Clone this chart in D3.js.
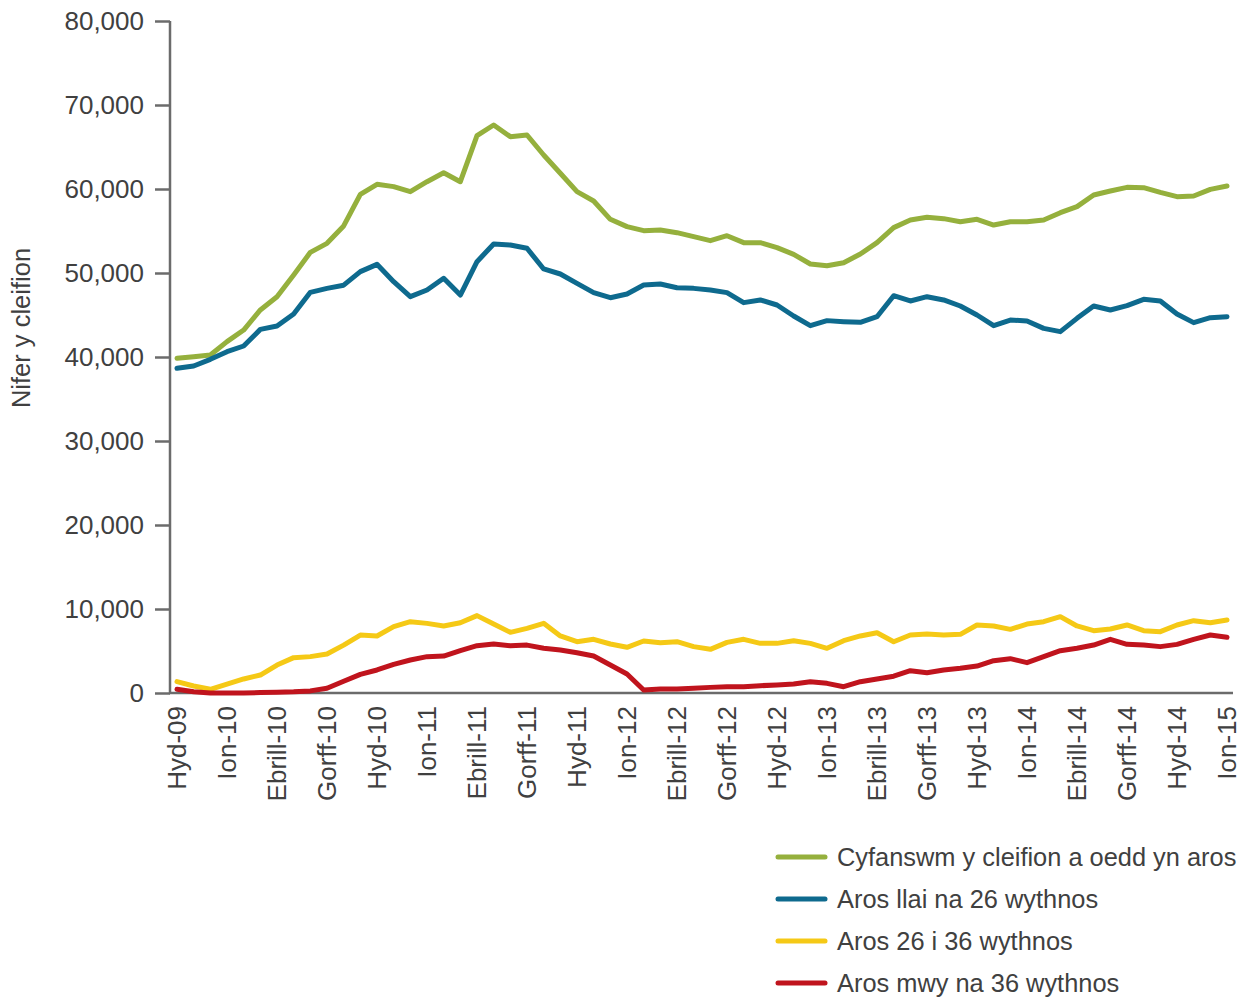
<!DOCTYPE html>
<html>
<head>
<meta charset="utf-8">
<script src="https://cdn.jsdelivr.net/npm/d3@7"></script>
<style>
  body { margin: 0; background: #fff; }
  text { font-family: "Liberation Sans", Arial, sans-serif; fill: #404040; }
</style>
</head>
<body>
<div id="chart"></div>
<script>
// monthly values, Hyd-09 .. Ion-15 (64 months)
var total = [39840, 40040, 40240, 41830, 43210, 45600, 47180, 49760, 52460, 53530,
  55600, 59370, 60560, 60280, 59680, 60870, 61940, 60870, 66350, 67620,
  66230, 66430, 64050, 61870, 59680, 58570, 56390, 55520, 55040, 55120,
  54800, 54330, 53850, 54440, 53610, 53610, 53020, 52220, 51070, 50870,
  51230, 52260, 53610, 55400, 56310, 56630, 56470, 56110, 56390, 55710,
  56110, 56110, 56310, 57180, 57900, 59290, 59760, 60200, 60160, 59600,
  59090, 59170, 59960, 60360];
var under26 = [38650, 38930, 39720, 40630, 41310, 43290, 43690, 45120, 47700, 48170,
  48550, 50160, 51030, 48970, 47180, 47980, 49370, 47380, 51350, 53450,
  53330, 52940, 50480, 49880, 48770, 47660, 47060, 47500, 48570, 48690,
  48250, 48170, 47980, 47660, 46470, 46790, 46190, 44880, 43730, 44330,
  44210, 44130, 44800, 47300, 46670, 47180, 46790, 46070, 45000, 43730,
  44400, 44290, 43410, 43020, 44600, 46070, 45600, 46110, 46870, 46670,
  45120, 44090, 44680, 44800];
var from26to36 = [1350, 830, 440, 1070, 1670, 2140, 3330, 4210, 4330, 4640,
  5700, 6900, 6790, 7900, 8490, 8290, 7980, 8370, 9210, 8210,
  7220, 7700, 8290, 6790, 6110, 6390, 5830, 5440, 6190, 5990,
  6110, 5520, 5200, 6030, 6390, 5910, 5910, 6230, 5910, 5320,
  6230, 6790, 7180, 6100, 6900, 7020, 6900, 6980, 8100, 7980,
  7580, 8210, 8490, 9090, 7980, 7420, 7620, 8100, 7420, 7300,
  8100, 8610, 8370, 8690];
var over36 = [440, 160, 0, 0, 0, 50, 100, 150, 250, 560,
  1400, 2220, 2740, 3410, 3930, 4330, 4400, 5040, 5630, 5830,
  5630, 5700, 5320, 5120, 4800, 4400, 3330, 2260, 360, 480,
  480, 560, 670, 750, 750, 870, 950, 1070, 1350, 1150,
  750, 1350, 1670, 2000, 2660, 2420, 2740, 2940, 3210, 3850,
  4090, 3610, 4330, 5040, 5320, 5710, 6390, 5790, 5710, 5520,
  5790, 6390, 6900, 6630];

var tickLabels = ["Hyd-09", "Ion-10", "Ebrill-10", "Gorff-10", "Hyd-10", "Ion-11",
  "Ebrill-11", "Gorff-11", "Hyd-11", "Ion-12", "Ebrill-12", "Gorff-12", "Hyd-12",
  "Ion-13", "Ebrill-13", "Gorff-13", "Hyd-13", "Ion-14", "Ebrill-14", "Gorff-14",
  "Hyd-14", "Ion-15"];
var seriesNames = ["Cyfanswm y cleifion a oedd yn aros", "Aros llai na 26 wythnos",
  "Aros 26 i 36 wythnos", "Aros mwy na 36 wythnos"];
var colors = ["#95b03d", "#0e6a8e", "#f5c916", "#c0141d"];

var width = 1245, height = 997;
var svg = d3.select("#chart").append("svg")
    .attr("width", width)
    .attr("height", height);

var x = d3.scaleLinear().domain([0, total.length - 1]).range([177, 1227]);
var y = d3.scaleLinear().domain([0, 80000]).range([693, 21]);

// y axis
var yAxis = d3.axisLeft(y)
    .tickValues(d3.range(0, 80001, 10000))
    .tickSize(15)
    .tickPadding(11)
    .tickFormat(d3.format(","));
var gy = svg.append("g")
    .attr("transform", "translate(170,0)")
    .call(yAxis);
gy.select(".domain").attr("d", "M0,21V693").attr("stroke", "#6b6b6b").attr("stroke-width", 2.5);
gy.selectAll(".tick line").attr("stroke", "#6b6b6b").attr("stroke-width", 2.5);
gy.selectAll(".tick text")
    .style("font-size", "26px")
    .style("font-family", "Liberation Sans, Arial, sans-serif")
    .attr("fill", "#404040");

svg.append("text")
    .attr("transform", "translate(30,328) rotate(-90)")
    .attr("text-anchor", "middle")
    .style("font-size", "25.5px")
    .text("Nifer y cleifion");

// x axis (baseline + rotated category labels)
svg.append("line")
    .attr("x1", 169).attr("x2", 1233)
    .attr("y1", 693).attr("y2", 693)
    .attr("stroke", "#6b6b6b").attr("stroke-width", 2.5);

svg.append("g").selectAll("text")
  .data(tickLabels)
  .enter().append("text")
    .attr("transform", (d, i) => "translate(" + x(i * 3) + ",706) rotate(-90)")
    .attr("text-anchor", "end")
    .attr("dy", "0.35em")
    .style("font-size", "26px")
    .text(d => d);

// lines
var series = [total, under26, from26to36, over36];
var line = d3.line()
    .x((d, i) => x(i))
    .y(d => y(d));

svg.append("g").selectAll("path")
  .data(series)
  .enter().append("path")
    .attr("d", line)
    .attr("fill", "none")
    .attr("stroke", (d, i) => colors[i])
    .attr("stroke-width", 5)
    .attr("stroke-linejoin", "round")
    .attr("stroke-linecap", "round");

// legend
var legend = svg.append("g").selectAll("g")
  .data(seriesNames)
  .enter().append("g")
    .attr("transform", (d, i) => "translate(778," + (857 + i * 42) + ")");
legend.append("line")
    .attr("x1", 0).attr("x2", 47)
    .attr("stroke", (d, i) => colors[i])
    .attr("stroke-width", 5)
    .attr("stroke-linecap", "round");
legend.append("text")
    .attr("x", 59)
    .attr("dy", "0.35em")
    .style("font-size", "25.4px")
    .text(d => d);
</script>
</body>
</html>
